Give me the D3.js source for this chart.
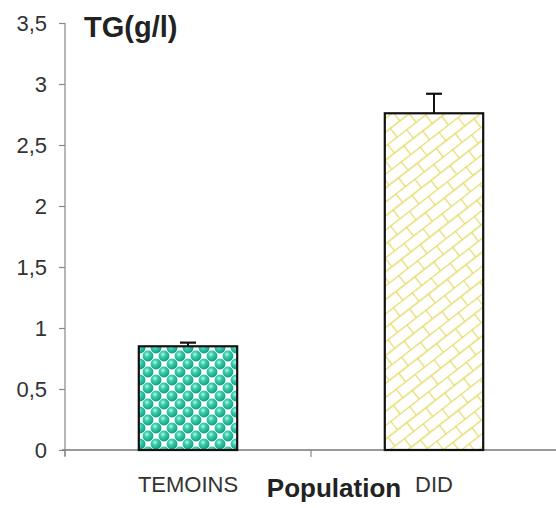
<!DOCTYPE html>
<html>
<head>
<meta charset="utf-8">
<script src="https://cdn.jsdelivr.net/npm/d3@7"></script>
<style>
  body { margin: 0; background: #fff; }
  text { font-family: "Liberation Sans", Arial, sans-serif; }
</style>
</head>
<body>
<div id="chart-area"></div>
<script>
// Data
var categories = ['TEMOINS', 'DID'];
var values = [0.85, 2.76];
var errors = [0.03, 0.16];
var yTicks = [0, 0.5, 1, 1.5, 2, 2.5, 3, 3.5];

var width = 556, height = 508;

var svg = d3.select('#chart-area').append('svg')
  .attr('width', width)
  .attr('height', height);

// Patterns
var defs = svg.append('defs');

var grad = defs.append('radialGradient')
  .attr('id', 'ball')
  .attr('cx', '40%').attr('cy', '35%').attr('r', '65%');
grad.append('stop').attr('offset', '0%').attr('stop-color', '#c8f5e8');
grad.append('stop').attr('offset', '35%').attr('stop-color', '#3fd0b0');
grad.append('stop').attr('offset', '100%').attr('stop-color', '#0e9f80');

var balls = defs.append('pattern')
  .attr('id', 'balls')
  .attr('patternUnits', 'userSpaceOnUse')
  .attr('width', 16).attr('height', 16);
balls.append('rect').attr('width', 16).attr('height', 16).attr('fill', '#f4fffc');
[[4, 4], [12, 12], [-4, 12], [12, -4], [20, 4], [4, 20]].forEach(function (c) {
  balls.append('circle')
    .attr('cx', c[0]).attr('cy', c[1]).attr('r', 5.4)
    .attr('fill', 'url(#ball)');
});

var bricks = defs.append('pattern')
  .attr('id', 'bricks')
  .attr('patternUnits', 'userSpaceOnUse')
  .attr('width', 24).attr('height', 22)
  .attr('patternTransform', 'rotate(-38)');
bricks.append('rect').attr('width', 24).attr('height', 22).attr('fill', '#fff');
bricks.append('path')
  .attr('d', 'M0,0.5H24M0,11.5H24M0.5,0V11M12.5,11V22')
  .attr('stroke', '#e6dc6a')
  .attr('stroke-width', 1.3)
  .attr('fill', 'none');

// Scales
var y = d3.scaleLinear().domain([0, 3.5]).range([450, 23]);
var x = d3.scaleBand().domain(categories)
  .range([65, 557])
  .paddingInner(0.6)
  .paddingOuter(0.3);

var fills = ['url(#balls)', 'url(#bricks)'];

// Y axis
var yAxis = svg.append('g').attr('transform', 'translate(65,0)')
  .call(d3.axisLeft(y).tickValues(yTicks).tickSize(6).tickPadding(12)
    .tickFormat(function (d) { return String(d).replace('.', ','); }));
yAxis.select('.domain').attr('stroke', '#888').attr('stroke-width', 1.2)
  .attr('d', 'M0,' + y(3.5) + 'V' + (y(0) + 6));
yAxis.selectAll('.tick line').attr('stroke', '#888').attr('stroke-width', 1.2);
yAxis.selectAll('.tick text')
  .attr('fill', '#333')
  .style('font-size', '22px')
  .style('font-family', '"Liberation Sans", Arial, sans-serif');

// X axis line and separator ticks
svg.append('line')
  .attr('x1', 62).attr('x2', width)
  .attr('y1', y(0)).attr('y2', y(0))
  .attr('stroke', '#777').attr('stroke-width', 1.4);

svg.selectAll('.xsep')
  .data([0, 1])
  .enter().append('line')
  .attr('class', 'xsep')
  .attr('x1', function (d) { return x.range()[0] + d * x.step(); })
  .attr('x2', function (d) { return x.range()[0] + d * x.step(); })
  .attr('y1', y(0)).attr('y2', y(0) + 7)
  .attr('stroke', '#888').attr('stroke-width', 1.2);

// Bars
svg.selectAll('.bar')
  .data(categories)
  .enter().append('rect')
  .attr('class', 'bar')
  .attr('x', function (d) { return x(d); })
  .attr('y', function (d, i) { return y(values[i]); })
  .attr('width', x.bandwidth())
  .attr('height', function (d, i) { return y(0) - y(values[i]); })
  .attr('fill', function (d, i) { return fills[i]; })
  .attr('stroke', '#111')
  .attr('stroke-width', 2.2);

// Error bars
var err = svg.selectAll('.err')
  .data(categories)
  .enter().append('g')
  .attr('class', 'err');
err.append('line')
  .attr('x1', function (d) { return x(d) + x.bandwidth() / 2; })
  .attr('x2', function (d) { return x(d) + x.bandwidth() / 2; })
  .attr('y1', function (d, i) { return y(values[i]); })
  .attr('y2', function (d, i) { return y(values[i] + errors[i]); })
  .attr('stroke', '#111').attr('stroke-width', 2);
err.append('line')
  .attr('x1', function (d) { return x(d) + x.bandwidth() / 2 - 8; })
  .attr('x2', function (d) { return x(d) + x.bandwidth() / 2 + 8; })
  .attr('y1', function (d, i) { return y(values[i] + errors[i]); })
  .attr('y2', function (d, i) { return y(values[i] + errors[i]); })
  .attr('stroke', '#111').attr('stroke-width', 2.2);

// Category labels
svg.selectAll('.cat')
  .data(categories)
  .enter().append('text')
  .attr('class', 'cat')
  .attr('x', function (d) { return x(d) + x.bandwidth() / 2; })
  .attr('y', 492)
  .attr('text-anchor', 'middle')
  .attr('fill', '#333')
  .style('font-size', '22px')
  .text(function (d) { return d; });

// Axis title
svg.append('text')
  .attr('x', 334).attr('y', 497)
  .attr('text-anchor', 'middle')
  .attr('fill', '#222')
  .style('font-size', '26px')
  .style('font-weight', 'bold')
  .text('Population');

// Y title
svg.append('text')
  .attr('x', 84).attr('y', 37)
  .attr('fill', '#222')
  .style('font-size', '29px')
  .style('font-weight', 'bold')
  .text('TG(g/l)');
</script>
</body>
</html>
